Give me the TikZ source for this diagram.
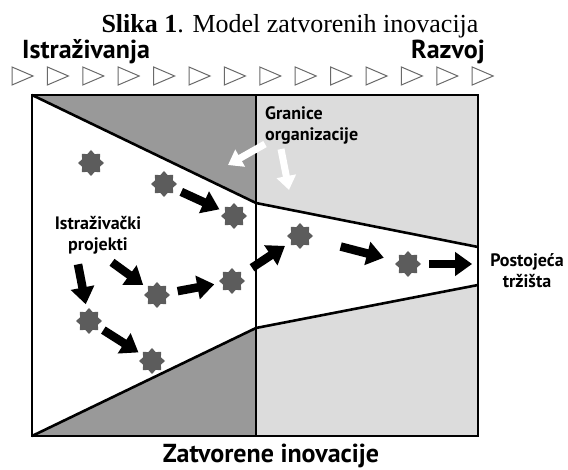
\documentclass[tikz,border=0pt]{standalone}
\usepackage{fontspec}
\setmainfont{Liberation Serif}
\newfontfamily\labelfont{PT Sans}
\usepackage{tikz}
\usetikzlibrary{shapes, arrows.meta, positioning}
\definecolor{darkzone}{HTML}{999999}
\definecolor{lightzone}{HTML}{DCDCDC}
\definecolor{ideagray}{HTML}{5C5C5C}
\definecolor{tickgray}{HTML}{6A6A6A}
\tikzstyle{idea}=[star, star points=8, star point ratio=1.35, minimum size=26pt, inner sep=0pt, fill=ideagray]
\tikzstyle{push}=[line width=8.5pt, -{Triangle[width=23pt,length=17pt]}]
\tikzstyle{hint}=[white, line width=7pt, -{Triangle[width=19pt,length=14pt]}]
\tikzstyle{note}=[font=\labelfont\bfseries\fontsize{18}{21}\selectfont, inner sep=0pt, align=center]
\tikzstyle{heading}=[font=\labelfont\bfseries\fontsize{26}{30}\selectfont, inner sep=0pt]
\tikzstyle{wall}=[line width=2.6pt]
\tikzstyle{stage}=[draw=tickgray, line width=1pt, fill=white]

\begin{document}
\begin{tikzpicture}[x=1pt, y=-1pt, >=latex]
  \useasboundingbox (0,0) rectangle (568,470);
  \fill[darkzone] (32,95) -- (256,95) -- (256,203) -- cycle;
  \fill[lightzone] (256,95) -- (478,95) -- (478,247) -- (256,203) -- cycle;
  \fill[darkzone] (32,436) -- (256,328) -- (256,436) -- cycle;
  \fill[lightzone] (256,328) -- (478,285) -- (478,436) -- (256,436) -- cycle;
  \draw[wall] (32,95) rectangle (478,436);
  \draw[wall] (256,95) -- (256,436);
  \draw[wall] (32,95) -- (256,203) -- (478,247);
  \draw[wall] (32,436) -- (256,328) -- (478,285);
  \foreach \i in {0,...,13}
    \draw[stage] ({12+35.4*\i},67) -- ++(21,9) -- ++(-21,9) -- cycle;

  \node[anchor=base, inner sep=0pt, font=\fontsize{26}{30}\selectfont] (title) at (290,33) {\textbf{Slika 1}. Model zatvorenih inovacija};
  \node[heading, anchor=base west] (research) at (22,59) {Istraživanja};
  \node[heading, anchor=base east] (development) at (485,59) {Razvoj};
  \node[heading, anchor=base] (closed) at (271,462) {Zatvorene inovacije};
  \node[note, anchor=north west, align=left] (boundary) at (265,106) {Granice\\organizacije};
  \node[note, anchor=north] (projects) at (98,216) {Istraživački\\projekti};
  \node[note, anchor=north] (market) at (527,253) {Postojeća\\tržišta};

  \node[idea] (i1) at (91,163) {};
  \node[idea] (i2) at (164,184) {};
  \node[idea] (i3) at (234,216) {};
  \node[idea] (i4) at (300,236) {};
  \node[idea] (i5) at (408,264) {};
  \node[idea] (i6) at (157,295) {};
  \node[idea] (i7) at (232,281) {};
  \node[idea] (i8) at (89,321) {};
  \node[idea] (i9) at (152,361) {};
  \coordinate (w1) at (228,165);
  \coordinate (w2) at (289,190);

  \draw[hint] (boundary.south west) -- (w1);
  \draw[hint] ([xshift=16pt,yshift=-5pt]boundary.south west) -- (w2);
  \draw[push, shorten <=19pt, shorten >=16pt] (i2.center) -- (i3.center);
  \draw[push, shorten <=21pt, shorten >=18pt] (i6.center) -- (i7.center);
  \draw[push, shorten <=24pt, shorten >=18pt] (i7.center) -- (i4.center);
  \draw[push, shorten <=42pt, shorten >=25pt] (i4.center) -- (i5.center);
  \draw[push, shorten <=21pt, shorten >=18pt] (i5.center) -- (i5.center -| market.west);
  \draw[push, shorten <=17pt, shorten >=16pt] (i8.center) -- (i9.center);
  \draw[push, shorten >=17pt] ([xshift=-20pt,yshift=-10pt]projects.south) -- (i8.center);
  \draw[push, shorten >=17pt] ([xshift=14pt,yshift=-8pt]projects.south) -- (i6.center);
\end{tikzpicture}
\end{document}
